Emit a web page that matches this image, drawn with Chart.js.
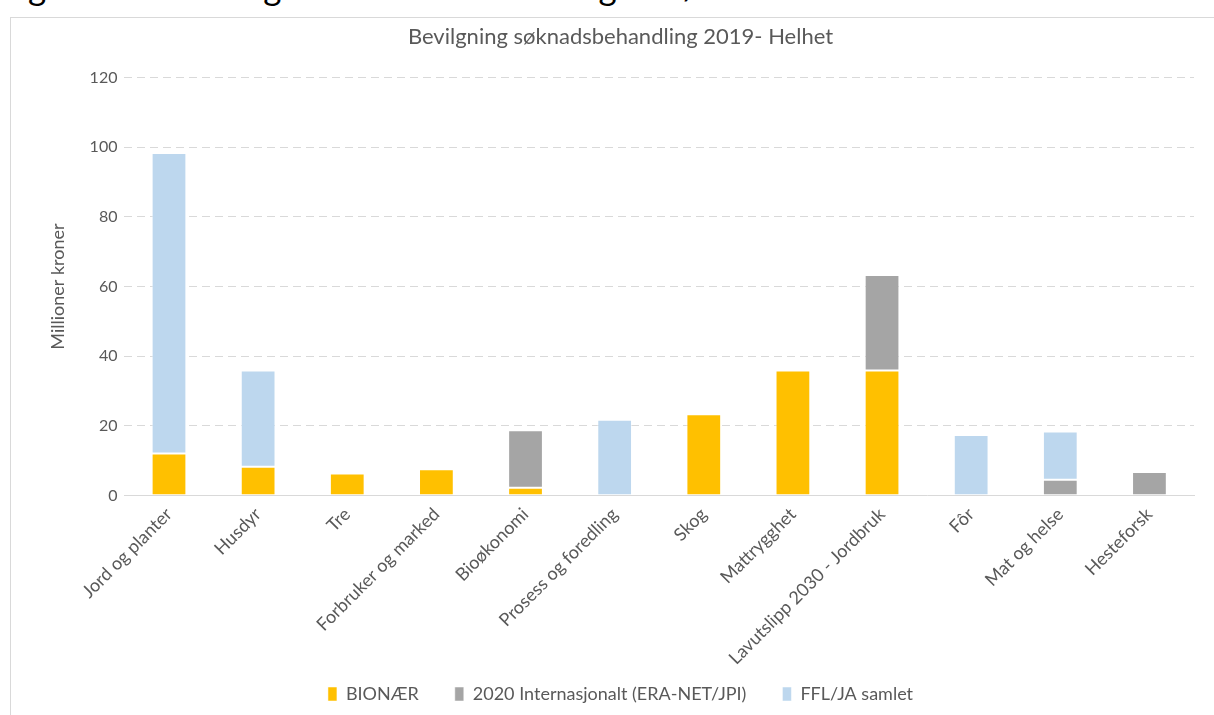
<!DOCTYPE html>
<html>
<head>
<meta charset="utf-8">
<script src="https://cdn.jsdelivr.net/npm/chart.js@4"></script>
<style>
    body { margin: 0; background: #fff; overflow: hidden; font-family: Lato, 'Open Sans', sans-serif; }
    .caption { position: absolute; left: 0px; top: -31px; font-size: 35px; line-height: 35px; color: #000; white-space: nowrap; }
    .frame { position: absolute; left: 10px; top: 17px; width: 1210px; height: 710px; border: 1px solid #d9d9d9; box-sizing: border-box; }
    .frame canvas { display: block; }
</style>
</head>
<body>
<div class="caption">Figur 4.4. Tildelinger i 2019 BIONÆR og FFL/JA</div>
<div class="frame">
    <canvas id="chart" width="1208" height="708"></canvas>
</div>
<script>
const categories = [
    'Jord og planter', 'Husdyr', 'Tre', 'Forbruker og marked', 'Bioøkonomi',
    'Prosess og foredling', 'Skog', 'Mattrygghet', 'Lavutslipp 2030 - Jordbruk',
    'Fôr', 'Mat og helse', 'Hesteforsk'
];
const bionaer = [12.1, 8.3, 6.4, 7.6, 2.3, null, 23.4, 35.9, 35.9, null, null, null];
const internasjonalt = [null, null, null, null, 16.5, null, null, null, 27.4, null, 4.6, 6.8];
const fflJa = [86.2, 27.6, null, null, null, 21.8, null, null, null, 17.4, 13.8, null];
const yTicks = [0, 20, 40, 60, 80, 100, 120];

const textColor = '#595959';
const gridColor = '#d9d9d9';
const font = "Lato, 'Open Sans', sans-serif";
const labelOverlap = 28;

function barSet(label, data, color) {
    return {
        label: label,
        data: data,
        backgroundColor: color,
        borderColor: 'rgba(255,255,255,0.5)',
        borderWidth: 1,
        borderSkipped: false,
        categoryPercentage: 1,
        barPercentage: 0.39
    };
}

// let the long rotated labels reach into the spare room above the legend
const labelRoom = {
    id: 'labelRoom',
    afterLayout(chart) {
        chart.scales.x.bottom += labelOverlap;
    }
};

new Chart(document.getElementById('chart'), {
    type: 'bar',
    data: {
        labels: categories,
        datasets: [
            barSet('BIONÆR', bionaer, '#ffc000'),
            barSet('2020 Internasjonalt (ERA-NET/JPI)', internasjonalt, '#a5a5a5'),
            barSet('FFL/JA samlet', fflJa, '#bdd7ee')
        ]
    },
    plugins: [labelRoom],
    options: {
        responsive: false,
        animation: false,
        layout: { padding: { left: 36, right: 25, top: 0, bottom: 13 } },
        plugins: {
            title: {
                display: true,
                text: 'Bevilgning søknadsbehandling 2019- Helhet',
                color: textColor,
                font: { family: font, size: 22, weight: 'normal' },
                padding: { top: 6, bottom: 27 }
            },
            legend: {
                position: 'bottom',
                labels: {
                    color: textColor,
                    font: { family: font, size: 18 },
                    boxWidth: 9,
                    boxHeight: 14,
                    padding: 36
                }
            },
            tooltip: { enabled: false }
        },
        scales: {
            x: {
                stacked: true,
                grid: { display: false, drawTicks: false },
                border: { color: gridColor, width: 1 },
                afterFit: axis => { axis.height -= labelOverlap; },
                ticks: {
                    color: textColor,
                    font: { family: font, size: 18 },
                    maxRotation: 45,
                    minRotation: 45,
                    padding: 8
                }
            },
            y: {
                stacked: true,
                min: 0,
                max: 120,
                afterBuildTicks: axis => { axis.ticks = yTicks.map(v => ({ value: v })); },
                grid: { color: gridColor, drawTicks: false },
                border: { display: false, dash: [8, 5] },
                ticks: {
                    color: textColor,
                    font: { family: font, size: 16 },
                    padding: 7
                },
                title: {
                    display: true,
                    text: 'Millioner kroner',
                    color: textColor,
                    font: { family: font, size: 18 },
                    padding: { top: 0, bottom: 14 }
                }
            }
        }
    }
});
</script>
</body>
</html>
